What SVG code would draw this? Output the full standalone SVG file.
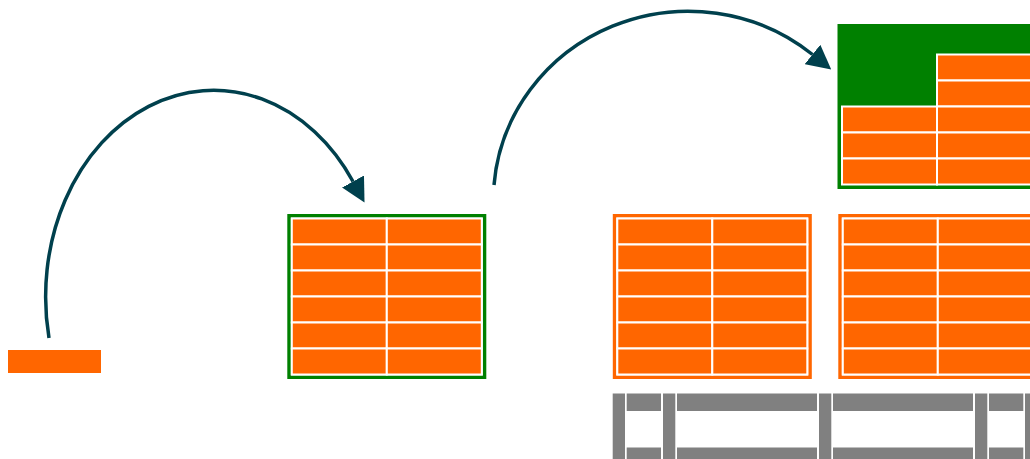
<svg xmlns="http://www.w3.org/2000/svg" width="1030" height="459" viewBox="0 0 1030 459">
  <style>
    .brick { fill: #ff6600; stroke: #ffffff; stroke-width: 2; }
    .frame-green { fill: #ffffff; stroke: #008000; stroke-width: 3.5; }
    .frame-green-full { fill: #008000; stroke: #008000; stroke-width: 3.5; }
    .frame-orange { fill: #ffffff; stroke: #ff6600; stroke-width: 3.5; }
    .rack { fill: #808080; }
    .arrow { fill: none; stroke: #00404d; stroke-width: 3.5; marker-end: url(#head); }
  </style>
  <defs>
    <marker id="head" markerUnits="userSpaceOnUse" viewBox="0 0 24 25" refX="0" refY="12.5" markerWidth="24" markerHeight="25" orient="auto">
      <path d="M0,0 L24,12.5 L0,25 Z" fill="#00404d"/>
    </marker>
    <g id="fullStack">
      <rect class="brick" x="4.5" y="4.5" width="95" height="26"/>
      <rect class="brick" x="99.5" y="4.5" width="95" height="26"/>
      <rect class="brick" x="4.5" y="30.5" width="95" height="26"/>
      <rect class="brick" x="99.5" y="30.5" width="95" height="26"/>
      <rect class="brick" x="4.5" y="56.5" width="95" height="26"/>
      <rect class="brick" x="99.5" y="56.5" width="95" height="26"/>
      <rect class="brick" x="4.5" y="82.5" width="95" height="26"/>
      <rect class="brick" x="99.5" y="82.5" width="95" height="26"/>
      <rect class="brick" x="4.5" y="108.5" width="95" height="26"/>
      <rect class="brick" x="99.5" y="108.5" width="95" height="26"/>
      <rect class="brick" x="4.5" y="134.5" width="95" height="26"/>
      <rect class="brick" x="99.5" y="134.5" width="95" height="26"/>
    </g>
  </defs>

  <g id="single-brick">
    <rect class="brick" x="7" y="349" width="95" height="25"/>
  </g>

  <g id="pallet-green" transform="translate(287.3,214)">
    <rect class="frame-green" x="1.75" y="1.75" width="195.5" height="161.5"/>
    <use href="#fullStack"/>
  </g>

  <g id="pallet-orange-1" transform="translate(612.8,214)">
    <rect class="frame-orange" x="1.75" y="1.75" width="195.5" height="161.5"/>
    <use href="#fullStack"/>
  </g>

  <g id="pallet-orange-2" transform="translate(838.3,214)">
    <rect class="frame-orange" x="1.75" y="1.75" width="195.5" height="161.5"/>
    <use href="#fullStack"/>
  </g>

  <g id="pallet-partial" transform="translate(837.5,24)">
    <rect class="frame-green-full" x="1.75" y="1.75" width="195.5" height="161.5"/>
    <rect class="brick" x="99.5" y="30.5" width="95" height="26"/>
    <rect class="brick" x="99.5" y="56.5" width="95" height="26"/>
    <rect class="brick" x="4.5" y="82.5" width="95" height="26"/>
    <rect class="brick" x="99.5" y="82.5" width="95" height="26"/>
    <rect class="brick" x="4.5" y="108.5" width="95" height="26"/>
    <rect class="brick" x="99.5" y="108.5" width="95" height="26"/>
    <rect class="brick" x="4.5" y="134.5" width="95" height="26"/>
    <rect class="brick" x="99.5" y="134.5" width="95" height="26"/>
  </g>

  <g id="rack">
    <rect class="rack" x="612.7" y="393.5" width="12.3" height="66"/>
    <rect class="rack" x="663" y="393.5" width="12.3" height="66"/>
    <rect class="rack" x="819" y="393.5" width="12.3" height="66"/>
    <rect class="rack" x="975" y="393.5" width="12.3" height="66"/>
    <rect class="rack" x="1025" y="393.5" width="12.3" height="66"/>
    <rect class="rack" x="626.7" y="393.5" width="34.3" height="17.5"/>
    <rect class="rack" x="677" y="393.5" width="140" height="17.5"/>
    <rect class="rack" x="833" y="393.5" width="140" height="17.5"/>
    <rect class="rack" x="989" y="393.5" width="34.3" height="17.5"/>
    <rect class="rack" x="626.7" y="447.5" width="34.3" height="12"/>
    <rect class="rack" x="677" y="447.5" width="140" height="12"/>
    <rect class="rack" x="833" y="447.5" width="140" height="12"/>
    <rect class="rack" x="989" y="447.5" width="34.3" height="12"/>
  </g>

  <g id="connectors">
    <path class="arrow" d="M49,338 A168,206.5 0 0 1 353,181.5"/>
    <path class="arrow" d="M494,185 A195,189 0 0 1 812.5,54.5"/>
  </g>
</svg>
